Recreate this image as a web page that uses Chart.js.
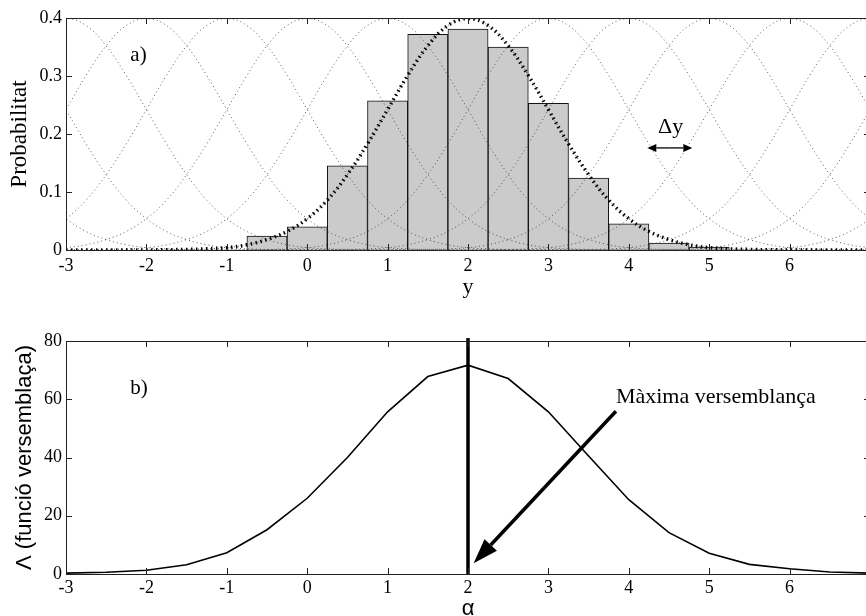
<!DOCTYPE html>
<html lang="ca">
<head>
    <meta charset="UTF-8">
    <title>Probabilitat i funció versemblança</title>
    <script src="https://cdn.jsdelivr.net/npm/chart.js"></script>
    <style>
        body { margin: 0; background: #fff; overflow: hidden; }
        canvas { display: block; }
    </style>
</head>
<body>
    <canvas id="histChart" width="874" height="300"></canvas>
    <canvas id="likeChart" width="874" height="322"></canvas>
    <script>
        // eix comú
        const xTicks = [-3, -2, -1, 0, 1, 2, 3, 4, 5, 6, 7];

        // a) histograma (centres dels intervals, amplada 0.5)
        const binCenters = [-0.5, 0, 0.5, 1, 1.5, 2, 2.5, 3, 3.5, 4, 4.5, 5];
        const binProb = [0.024, 0.040, 0.145, 0.257, 0.372, 0.381, 0.350, 0.253, 0.124, 0.045, 0.012, 0.005];

        // forma de la corba (mitja, de 0 a 5 en passos de 0.25)
        const halfOffsets = [0, 0.25, 0.5, 0.75, 1, 1.25, 1.5, 1.75, 2, 2.25, 2.5, 2.75, 3, 3.25, 3.5, 3.75, 4, 4.25, 4.5, 4.75, 5];
        const halfProfile = [0.399, 0.387, 0.352, 0.301, 0.242, 0.183, 0.130, 0.086, 0.054, 0.032, 0.018, 0.009, 0.004, 0.002, 0.001, 0.0004, 0.0001, 0, 0, 0, 0];
        const kernelCenters = [-5, -4, -3, -2, -1, 0, 1, 2, 3, 4, 5, 6, 7, 8, 9];
        const fitCenter = 2;
        const yTicksA = [0, 0.1, 0.2, 0.3, 0.4];

        // b) funció versemblança
        const alphaValues = [-3, -2.5, -2, -1.5, -1, -0.5, 0, 0.5, 1, 1.5, 2, 2.5, 3, 3.5, 4, 4.5, 5, 5.5, 6, 6.5, 7];
        const likelihood = [0.3, 0.6, 1.3, 3.2, 7.3, 15.2, 26, 40, 55.7, 67.8, 71.7, 67.1, 55.7, 40.5, 25.5, 14.2, 7.1, 3.3, 1.8, 0.7, 0.3];
        const mlAlpha = 2;
        const yTicksB = [0, 20, 40, 60, 80];

        Chart.defaults.color = '#000';
        Chart.defaults.font.family = "'Liberation Serif', 'DejaVu Serif', serif";
        Chart.defaults.animation = false;

        function profileAt(center) {
            const pts = [];
            for (let i = halfOffsets.length - 1; i > 0; i--) pts.push({ x: center - halfOffsets[i], y: halfProfile[i] });
            halfOffsets.forEach((o, i) => pts.push({ x: center + o, y: halfProfile[i] }));
            return pts;
        }

        function drawArrow(ctx, x1, y1, x2, y2, headLen, headHalf, width) {
            const ang = Math.atan2(y2 - y1, x2 - x1);
            const bx = x2 - headLen * Math.cos(ang), by = y2 - headLen * Math.sin(ang);
            ctx.lineWidth = width;
            ctx.beginPath();
            ctx.moveTo(x1, y1);
            ctx.lineTo(bx, by);
            ctx.stroke();
            ctx.beginPath();
            ctx.moveTo(x2, y2);
            ctx.lineTo(bx + headHalf * Math.sin(ang), by - headHalf * Math.cos(ang));
            ctx.lineTo(bx - headHalf * Math.sin(ang), by + headHalf * Math.cos(ang));
            ctx.closePath();
            ctx.fill();
        }

        // marc i marques cap a dins
        const frameTicks = {
            id: 'frameTicks',
            afterDatasetsDraw(chart) {
                const { ctx, chartArea: a, scales: { x, y } } = chart;
                ctx.save();
                ctx.strokeStyle = '#222';
                ctx.lineWidth = 1;
                ctx.beginPath();
                xTicks.forEach(v => {
                    const px = Math.round(x.getPixelForValue(v)) + 0.5;
                    ctx.moveTo(px, a.bottom); ctx.lineTo(px, a.bottom - 6);
                    ctx.moveTo(px, a.top); ctx.lineTo(px, a.top + 6);
                });
                y.ticks.forEach(t => {
                    const py = Math.round(y.getPixelForValue(t.value)) + 0.5;
                    ctx.moveTo(a.left, py); ctx.lineTo(a.left + 6, py);
                    ctx.moveTo(a.right, py); ctx.lineTo(a.right - 6, py);
                });
                ctx.stroke();
                ctx.strokeRect(Math.round(a.left) + 0.5, Math.round(a.top) + 0.5, Math.round(a.right - a.left), Math.round(a.bottom - a.top));
                ctx.restore();
            }
        };

        function xScale(extra) {
            return Object.assign({
                type: 'linear',
                min: -3,
                max: 7,
                offset: false,
                grid: { display: false, drawTicks: false },
                border: { display: false },
                afterBuildTicks: s => { s.ticks = xTicks.map(v => ({ value: v })); },
                ticks: { font: { size: 18 }, maxRotation: 0, autoSkip: false }
            }, extra);
        }

        // a)
        const histDatasets = [{
            type: 'bar',
            data: binCenters.map((c, i) => ({ x: c, y: binProb[i] })),
            backgroundColor: '#cbcbcb',
            borderColor: '#111',
            borderWidth: 1,
            barPercentage: 1,
            categoryPercentage: 1,
            order: 3
        }];
        kernelCenters.forEach(c => histDatasets.push({
            type: 'line',
            data: profileAt(c),
            borderColor: 'rgba(40,40,40,0.75)',
            borderWidth: 1,
            borderDash: [1, 3],
            pointRadius: 0,
            tension: 0.4,
            order: 2
        }));
        histDatasets.push({
            type: 'line',
            data: profileAt(fitCenter),
            borderColor: '#000',
            borderWidth: 3.5,
            borderDash: [1.5, 3.5],
            pointRadius: 0,
            tension: 0.4,
            order: 1
        });

        const annotA = {
            id: 'annotA',
            afterDraw(chart) {
                const { ctx, scales: { x, y } } = chart;
                ctx.save();
                ctx.fillStyle = '#000';
                ctx.strokeStyle = '#000';
                ctx.font = "21px 'Liberation Serif', serif";
                ctx.textBaseline = 'middle';
                ctx.textAlign = 'left';
                ctx.fillText('a)', x.getPixelForValue(-2.2), y.getPixelForValue(0.336));
                ctx.font = "22px 'Liberation Serif', serif";
                ctx.textAlign = 'center';
                ctx.fillText('Δy', x.getPixelForValue(4.52), y.getPixelForValue(0.212));
                const ay = y.getPixelForValue(0.176);
                const l = x.getPixelForValue(4.23), r = x.getPixelForValue(4.79);
                const m = (l + r) / 2;
                drawArrow(ctx, m, ay, l, ay, 9, 4, 1.3);
                drawArrow(ctx, m, ay, r, ay, 9, 4, 1.3);
                ctx.restore();
            }
        };

        new Chart(document.getElementById('histChart'), {
            type: 'bar',
            data: { datasets: histDatasets },
            plugins: [frameTicks, annotA],
            options: {
                responsive: false,
                layout: { padding: { top: 18, right: 4, left: 0, bottom: 0 } },
                plugins: { legend: { display: false }, tooltip: { enabled: false } },
                scales: {
                    x: xScale({
                        title: { display: true, text: 'y', font: { size: 22 }, padding: 0 },
                        ticks: { font: { size: 18 }, maxRotation: 0, autoSkip: false, padding: 5 },
                        afterFit: s => { s.height = 50; s.paddingLeft = 0; s.paddingRight = 0; }
                    }),
                    y: {
                        min: 0,
                        max: 0.4,
                        grid: { display: false, drawTicks: false },
                        border: { display: false },
                        afterBuildTicks: s => { s.ticks = yTicksA.map(v => ({ value: v })); },
                        ticks: { font: { size: 18 }, padding: 4, callback: v => String(v) },
                        title: { display: true, text: 'Probabilitat', font: { size: 23 }, padding: { top: 6, bottom: 0 } },
                        afterFit: s => { s.width = 66; s.paddingTop = 0; s.paddingBottom = 0; }
                    }
                }
            }
        });

        // b)
        const annotB = {
            id: 'annotB',
            afterDraw(chart) {
                const { ctx, scales: { x, y } } = chart;
                ctx.save();
                ctx.fillStyle = '#000';
                ctx.strokeStyle = '#000';
                ctx.font = "21px 'Liberation Serif', serif";
                ctx.textBaseline = 'middle';
                ctx.textAlign = 'left';
                ctx.fillText('b)', x.getPixelForValue(-2.2), y.getPixelForValue(63.8));
                ctx.font = "22px 'Liberation Serif', serif";
                ctx.fillText('Màxima versemblança', x.getPixelForValue(3.84), y.getPixelForValue(60.6));
                drawArrow(ctx, x.getPixelForValue(3.84), y.getPixelForValue(55.9),
                    x.getPixelForValue(2.07), y.getPixelForValue(3.7), 25, 8.5, 3.5);
                ctx.restore();
            }
        };

        new Chart(document.getElementById('likeChart'), {
            type: 'line',
            data: {
                datasets: [{
                    data: alphaValues.map((a, i) => ({ x: a, y: likelihood[i] })),
                    borderColor: '#000',
                    borderWidth: 1.6,
                    pointRadius: 0,
                    tension: 0
                }, {
                    data: [{ x: mlAlpha, y: 0 }, { x: mlAlpha, y: 81 }],
                    borderColor: '#000',
                    borderWidth: 3.5,
                    pointRadius: 0,
                    clip: false
                }]
            },
            plugins: [frameTicks, annotB],
            options: {
                responsive: false,
                layout: { padding: { top: 41, right: 4, left: 0, bottom: 0 } },
                plugins: { legend: { display: false }, tooltip: { enabled: false } },
                scales: {
                    x: xScale({
                        title: { display: true, text: 'α', font: { family: "'Liberation Sans', sans-serif", size: 22 }, padding: 0 },
                        ticks: { font: { size: 18 }, maxRotation: 0, autoSkip: false, padding: 3 },
                        afterFit: s => { s.height = 48; s.paddingLeft = 0; s.paddingRight = 0; }
                    }),
                    y: {
                        min: 0,
                        max: 80,
                        grid: { display: false, drawTicks: false },
                        border: { display: false },
                        afterBuildTicks: s => { s.ticks = yTicksB.map(v => ({ value: v })); },
                        ticks: { font: { size: 18 }, padding: 4 },
                        title: { display: true, text: 'Λ (funció versemblaça)', font: { family: "'Liberation Sans', sans-serif", size: 22 }, padding: { top: 12, bottom: 0 } },
                        afterFit: s => { s.width = 66; s.paddingTop = 0; s.paddingBottom = 0; }
                    }
                }
            }
        });
    </script>
</body>
</html>
